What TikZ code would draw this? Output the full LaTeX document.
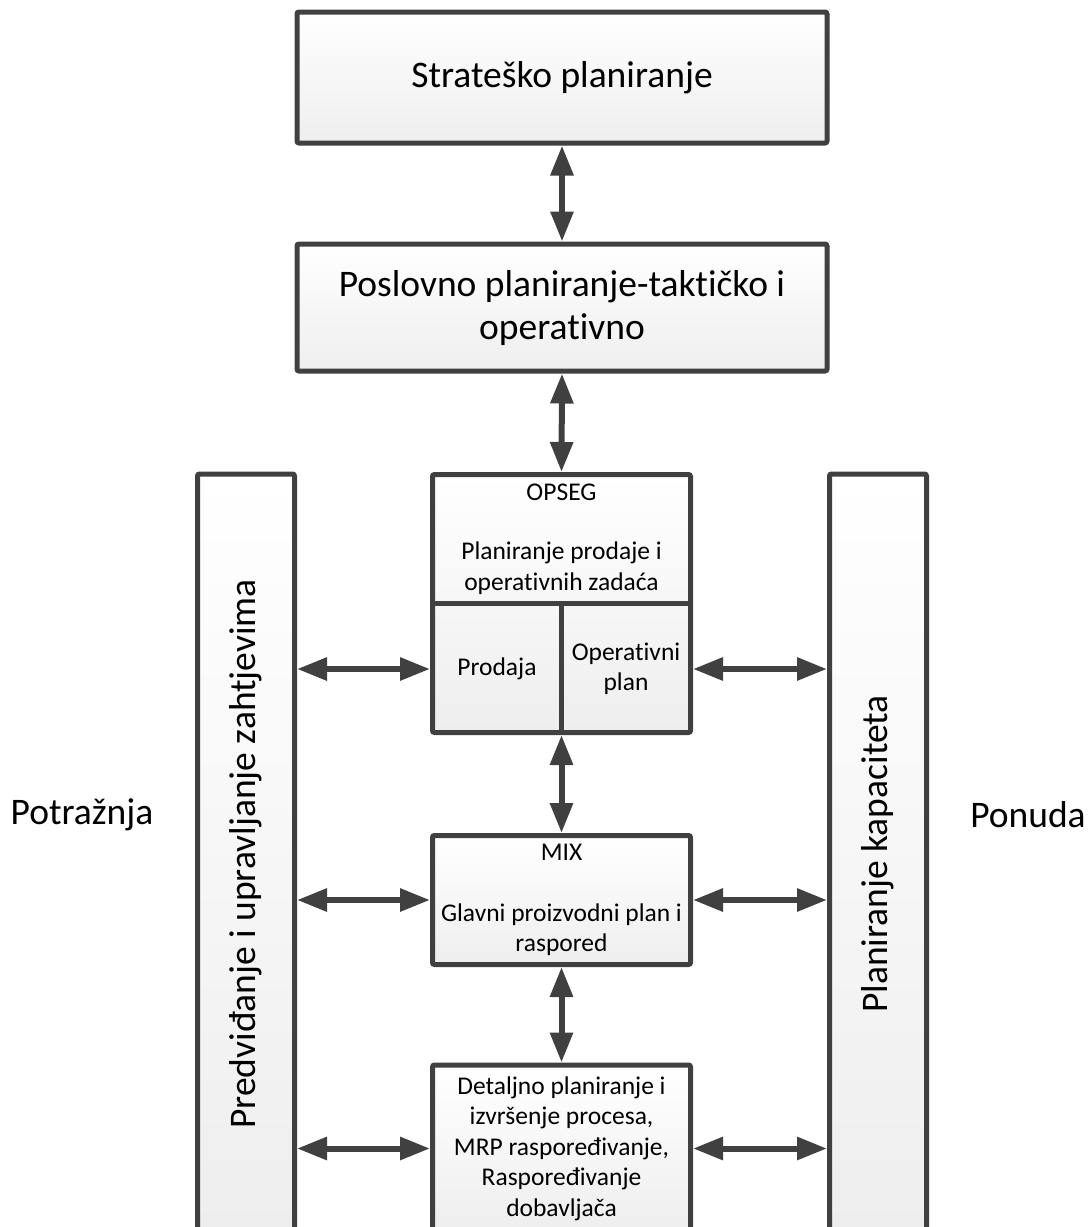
\documentclass[tikz,border=0pt]{standalone}
\usepackage{fontspec}
\setmainfont{Carlito}[RawFeature={-liga;-clig;-dlig}]
\usetikzlibrary{arrows.meta,calc}
\definecolor{boxline}{RGB}{64,64,64}
\definecolor{boxbot}{RGB}{238,238,238}
\begin{document}
\begin{tikzpicture}[x=1pt,y=-1pt,
  box/.style={draw=boxline, line width=5pt, rounded corners=2pt, top color=white, bottom color=boxbot, inner sep=0pt},
  big/.style={font=\fontsize{37.5}{43}\selectfont, align=center, text=black},
  small/.style={font=\fontsize{25.5}{30.5}\selectfont, align=center, text=black},
  divider/.style={draw=boxline, line width=5pt},
  link/.style={draw=boxline, line width=6pt, {Triangle[length=30pt,width=22pt]}-{Triangle[length=30pt,width=22pt]}},
]
\useasboundingbox (0,0) rectangle (1090,1227);
\clip (0,0) rectangle (1090,1227);

% top boxes
\node[box, big, minimum width=530pt, minimum height=131pt] (strat) at (562,77.5) {Strateško planiranje};
\node[box, big, minimum width=530pt, minimum height=127pt] (posl) at (562,307.5) {Poslovno planiranje-taktičko i\\operativno};

% side bars
\node[box, minimum width=97pt, minimum height=760pt] (lbar) at (246,854) {};
\node[box, minimum width=97pt, minimum height=760pt] (rbar) at (878,854) {};
\node[big, rotate=90] (lbartxt) at (lbar) {Predviđanje i upravljanje zahtjevima};
\node[big, rotate=90] (rbartxt) at (rbar) {Planiranje kapaciteta};

% side labels
\node[big] (potr) at (82,815) {Potražnja};
\node[big] (pon) at (1028,815) {Ponuda};

% OPSEG box
\node[box, minimum width=258pt, minimum height=258pt] (opseg) at (561.5,603.5) {};
\coordinate (div) at (561.5,603);
\draw[divider] (opseg.west |- div) -- (opseg.east |- div);
\draw[divider] (div) -- (opseg.south);
\node[small] (opsegtitle) at (561.5,492) {OPSEG};
\node[small] (opsegtxt) at (561.5,568) {Planiranje prodaje i\\operativnih zadaća};
\node[small] (prodaja) at (497,669) {Prodaja};
\node[small] (opplan) at (626,669) {Operativni\\plan};

% MIX box
\node[box, small, minimum width=258pt, minimum height=129pt] (mix) at (561.5,900) {MIX\\[30.5pt]Glavni proizvodni plan i\\raspored};

% bottom box
\node[box, small, minimum width=258pt, minimum height=167pt] (det) at (561.5,1148.5) {Detaljno planiranje i\\izvršenje procesa,\\MRP raspoređivanje,\\Raspoređivanje\\dobavljača};

% vertical connectors
\draw[link] (strat.south) -- (posl.north);
\draw[link] (posl.south) -- (opseg.north);
\draw[link] (opseg.south) -- (mix.north);
\draw[link] (mix.south) -- (det.north);

% horizontal connectors
\draw[link] (lbar.east |- prodaja) -- (opseg.west |- prodaja);
\draw[link] (opseg.east |- prodaja) -- (rbar.west |- prodaja);
\draw[link] (lbar.east |- mix.center) -- (mix.west);
\draw[link] (mix.east) -- (rbar.west |- mix.center);
\draw[link] (lbar.east |- det.center) -- (det.west);
\draw[link] (det.east) -- (rbar.west |- det.center);
\end{tikzpicture}
\end{document}
